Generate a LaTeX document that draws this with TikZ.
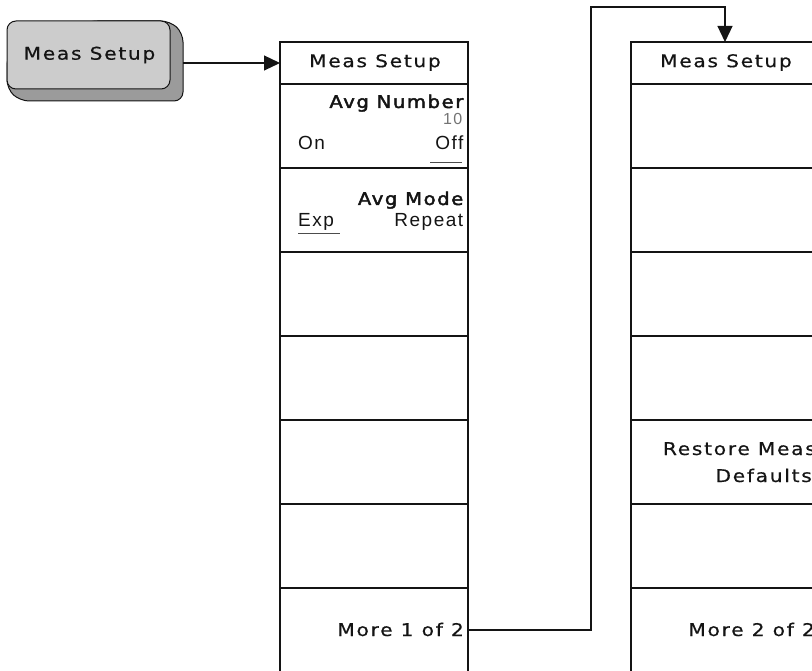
\documentclass[tikz,border=0pt]{standalone}
\usepackage{fontspec}
\setmainfont{DejaVu Sans}
\newfontfamily\keyfont{DejaVu Sans}[FakeStretch=1.15,LetterSpace=10,FakeBold=0.5]
\newfontfamily\keyboldfont{DejaVu Sans}[FakeStretch=1.12,LetterSpace=9,FakeBold=2.5]
\newfontfamily\smallfont{Liberation Sans}[LetterSpace=8]
\usetikzlibrary{arrows.meta}
\definecolor{facegray}{RGB}{204,204,204}
\definecolor{shadowgray}{RGB}{155,155,155}
\definecolor{linec}{RGB}{20,20,20}
\begin{document}
\begin{tikzpicture}[x=1pt,y=-1pt,
  keybox/.style={draw=linec, line width=1.3pt, minimum width=188pt, minimum height=84pt,
    inner sep=0pt, outer sep=0pt, anchor=north west},
  hdrbox/.style={keybox, minimum height=42pt},
  keytxt/.style={font=\keyfont\fontsize{17.5}{20}\selectfont, inner sep=0pt, text=linec},
  boldtxt/.style={font=\keyboldfont\fontsize{17.5}{20}\selectfont, inner sep=0pt, text=linec},
  smalltxt/.style={font=\smallfont\fontsize{19}{21}\selectfont, inner sep=0pt, text=linec},
  graytxt/.style={font=\smallfont\fontsize{16}{18}\selectfont, inner sep=0pt, text=black!55},
  conn/.style={draw=linec, line width=1.2pt},
  tip/.style={-{Triangle[length=16pt,width=15pt]}},
  uline/.style={draw=black!70, line width=0.9pt}
]
\useasboundingbox (0,0) rectangle (812,671);
\clip (0,0) rectangle (812,671);

% hardkey button
\node[minimum width=163pt, minimum height=68pt, inner sep=0pt, outer sep=0pt] (btn) at (88.5,55) {};
\filldraw[fill=shadowgray, draw=linec, line width=1pt, rounded corners=9pt]
  (btn.north) -- (btn.north east) -- ([shift={(13,12)}]btn.north east)
  -- ([shift={(13,12)}]btn.south east) -- ([shift={(13,12)}]btn.south west)
  -- (btn.south west) -- (btn.west) -- cycle;
\filldraw[fill=facegray, draw=linec, line width=1pt, rounded corners=9pt]
  (btn.north west) rectangle (btn.south east);
\node[keytxt] (btnt) at ([xshift=1pt]btn.center) {Meas Setup};

% left menu column
\node[hdrbox] (L0) at (280,42) {};
\node[keybox] (L1) at (280,84) {};
\node[keybox] (L2) at (280,168) {};
\node[keybox] (L3) at (280,252) {};
\node[keybox] (L4) at (280,336) {};
\node[keybox] (L5) at (280,420) {};
\node[keybox] (L6) at (280,504) {};
\node[keybox] (L7) at (280,588) {};

\node[keytxt] (L0t) at ([xshift=1pt,yshift=0.5pt]L0.center) {Meas Setup};
\node[boldtxt, anchor=base east] (L1a) at (463.5,108) {Avg Number};
\node[graytxt, anchor=base east] (L1b) at (462.5,125) {10};
\node[smalltxt, anchor=base west] (L1c) at (298,150) {On};
\node[smalltxt, anchor=base east] (L1d) at (463.5,150) {Off};
\draw[uline] (430,162) -- (462,162);
\node[boldtxt, anchor=base east] (L2a) at (463.5,205) {Avg Mode};
\node[smalltxt, anchor=base west] (L2b) at (298,227) {Exp};
\node[smalltxt, anchor=base east] (L2c) at (463.5,227) {Repeat};
\draw[uline] (298,233) -- (340,233);
\node[keytxt, anchor=base east] (L7a) at (464,636) {More 1 of 2};

% right menu column
\node[hdrbox] (R0) at (631,42) {};
\node[keybox] (R1) at (631,84) {};
\node[keybox] (R2) at (631,168) {};
\node[keybox] (R3) at (631,252) {};
\node[keybox] (R4) at (631,336) {};
\node[keybox] (R5) at (631,420) {};
\node[keybox] (R6) at (631,504) {};
\node[keybox] (R7) at (631,588) {};

\node[keytxt] (R0t) at ([xshift=1pt,yshift=0.5pt]R0.center) {Meas Setup};
\node[keytxt, anchor=base east] (R5a) at (816,455) {Restore Meas};
\node[keytxt, anchor=base east] (R5b) at (812,482) {Defaults};
\node[keytxt, anchor=base east] (R7a) at (815,636) {More 2 of 2};

% connectors
\coordinate (bs) at ([shift={(13,8)}]btn.east);
\draw[conn, tip] (bs) -- (bs -| L0.west);
\coordinate (c1) at (591,7);
\draw[conn, tip] (L7.east) -| (c1) -| (R0.north);
\end{tikzpicture}
\end{document}
